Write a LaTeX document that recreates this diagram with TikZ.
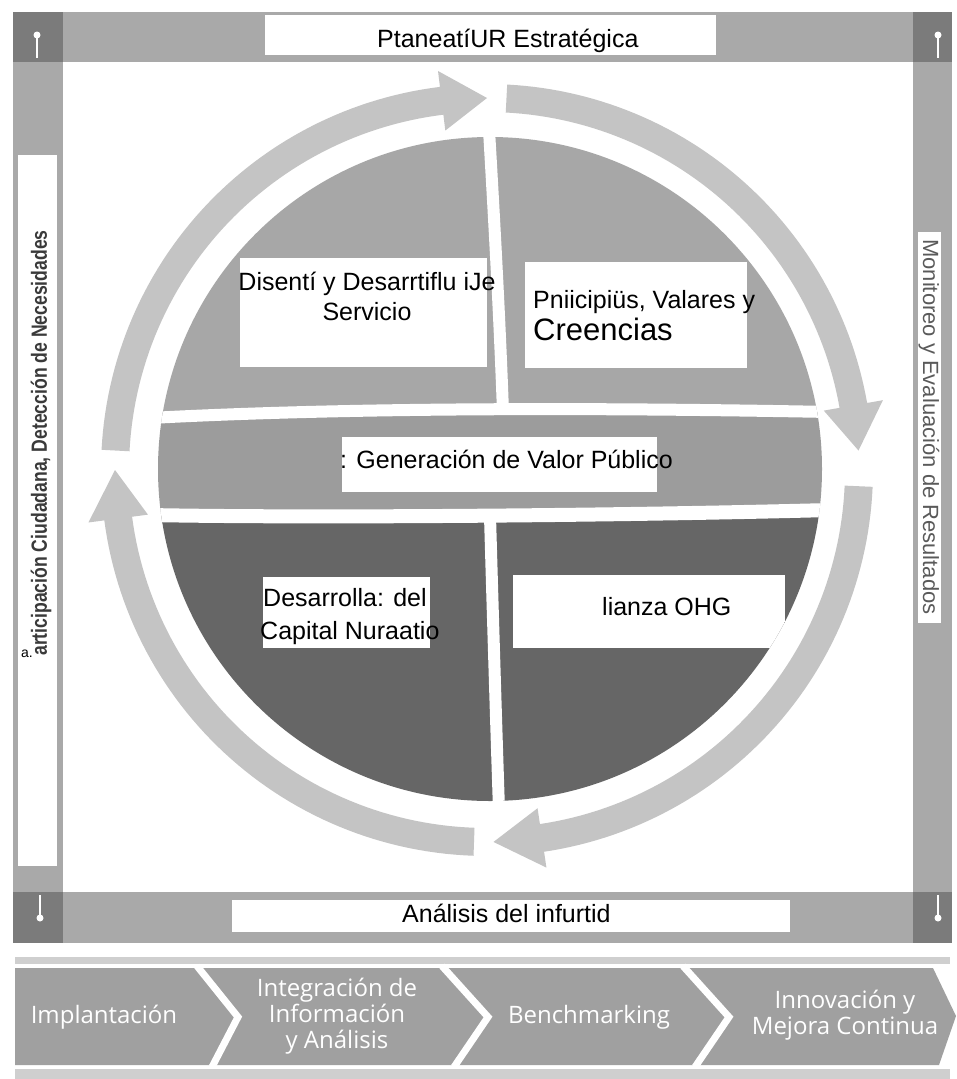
\documentclass[tikz,border=0pt]{standalone}
\usepackage{fontspec}
\setmainfont{Liberation Sans}
\newfontfamily\chevfont{Open Sans}
\usepackage{graphicx}
\definecolor{ringc}{HTML}{C4C4C4}
\definecolor{topc}{HTML}{A7A7A7}
\definecolor{midc}{HTML}{9C9C9C}
\definecolor{botc}{HTML}{666666}
\definecolor{framec}{HTML}{A9A9A9}
\definecolor{cornc}{HTML}{7B7B7B}
\definecolor{chevc}{HTML}{A0A0A0}
\definecolor{stripc}{HTML}{CFCFCF}
\definecolor{sidetxt}{HTML}{3A3A3A}
\definecolor{sidetxtr}{HTML}{5A5A5A}
\newcommand\RingArrow[3]{%
  \fill[ringc] plot[domain=#1:#2,samples=60] ({487+386*cos(\x)},{470+386*sin(\x)})
    -- ({487+402*cos(#2)},{470+402*sin(#2)})
    -- ({487+372*cos(#3)},{470+372*sin(#3)})
    -- ({487+342*cos(#2)},{470+342*sin(#2)})
    -- plot[domain=#2:#1,samples=60] ({487+358*cos(\x)},{470+358*sin(\x)}) -- cycle;}
\tikzset{
  lbl/.style={inner sep=0pt, font=\fontsize{25}{30}\selectfont, text=black},
  chevtxt/.style={inner sep=0pt, font=\chevfont\fontsize{24}{26}\selectfont, text=white, align=center},
  sep/.style={white, line width=12pt, line cap=butt},
  chevsep/.style={white, line width=7pt, line join=miter},
  cornerdot/.style={white, line width=1.2pt}
}
\begin{document}
\begin{tikzpicture}[x=1pt,y=-1pt]
\useasboundingbox (0,0) rectangle (956,1079);
\fill[white] (0,0) rectangle (956,1079);
% frame bars
\fill[framec] (13,12) rectangle (952,62);
\fill[framec] (13,892) rectangle (952,943);
\fill[framec] (13,62) rectangle (63,892);
\fill[framec] (913,62) rectangle (952,892);
% corners
\fill[cornc] (13,12) rectangle (63,62);
\fill[cornc] (13,892) rectangle (63,943);
\fill[cornc] (913,12) rectangle (952,62);
\fill[cornc] (913,892) rectangle (952,943);
\draw[cornerdot] (37,35) -- (37,58); \fill[white] (37,35) circle[radius=3.5pt];
\draw[cornerdot] (938,35) -- (938,58); \fill[white] (938,35) circle[radius=3.5pt];
\draw[cornerdot] (40,895) -- (40,918); \fill[white] (40,918) circle[radius=3.5pt];
\draw[cornerdot] (938,895) -- (938,918); \fill[white] (938,918) circle[radius=3.5pt];
% white boxes in frame
\fill[white] (265,15) rectangle (716,55);
\fill[white] (232,900) rectangle (790,932);
\fill[white] (18,155) rectangle (57,866);
\fill[white] (918,232) rectangle (941,623);
% ring arrows
\RingArrow{183}{263}{270}
\RingArrow{273}{350}{357}
\RingArrow{2.5}{81.5}{89}
\RingArrow{92}{172.5}{180}
% pie
\begin{scope}
  \clip (490,469) circle[radius=332pt];
  \fill[topc] (150,120) rectangle (830,416);
  \fill[midc] (150,412) rectangle (830,516);
  \fill[botc] (150,514) rectangle (830,810);
  \draw[sep] (489,130) .. controls (496,250) and (500,330) .. (503,412);
  \draw[sep, line width=12pt] (150,418) .. controls (300,410) and (520,406) .. (830,412);
  \draw[sep, line width=14pt] (150,515) .. controls (300,518) and (600,516) .. (830,510);
  \draw[sep] (490,516) .. controls (493,620) and (496,720) .. (499,810);
  % boxes
  \fill[white] (240,258) rectangle (487,367);
  \fill[white] (525,262) rectangle (747,368);
  \fill[white] (342,437) rectangle (657,492);
  \fill[white] (263,577) rectangle (430,648);
  \fill[white] (513,575) rectangle (785,648);
\end{scope}
% texts
\node[lbl, anchor=base west] (title) at (377,47) {PtaneatíUR Estratégica};
\node[lbl, anchor=base] (dis1) at (367,290) {Disentí y Desarrtiflu iJe};
\node[lbl, anchor=base] (dis2) at (367,320) {Servicio};
\node[lbl, anchor=base west] (pri1) at (533,308) {Pniicipiüs, Valares y};
\node[lbl, anchor=base west, font=\fontsize{31}{36}\selectfont] (pri2) at (533,340) {Creencias};
\node[lbl, anchor=base west] (gen) at (340,468) {: Generación de Valor Público};
\node[lbl, anchor=base west] (des1) at (263,606) {Desarrolla: del};
\node[lbl, anchor=base west] (des2) at (260,639) {Capital Nuraatio};
\node[lbl, anchor=base west] (lia) at (602,615) {lianza OHG};
\node[lbl, anchor=base west] (ana) at (402,922) {Análisis del infurtid};
\node[inner sep=0pt, anchor=base west, font=\fontsize{14}{16}\selectfont] (adot) at (21,657) {a.};
\node[inner sep=0pt, rotate=90, text=sidetxt, font=\bfseries\fontsize{22}{24}\selectfont] (left) at (41,443) {\scalebox{0.8}[1]{articipación Ciudadana, Detección de Necesidades}};
\node[inner sep=0pt, rotate=-90, text=sidetxtr, font=\fontsize{22}{24}\selectfont] (right) at (929,427) {Monitoreo y Evaluación de Resultados};
% chevron band
\fill[stripc] (15,957) rectangle (950,964);
\fill[chevc] (15,968) -- (933,968) -- (956,1016) -- (939,1065) -- (15,1065) -- cycle;
\draw[chevsep] (197,966) -- (238,1017) -- (212,1067);
\draw[chevsep] (442,966) -- (488,1017) -- (454,1067);
\draw[chevsep] (683,966) -- (729,1017) -- (695,1067);
\fill[stripc] (15,1069) rectangle (950,1079);
\node[chevtxt] (imp) at (104,1017) {Implantación};
\node[chevtxt] (int) at (337,1016) {Integración de\\Información\\y Análisis};
\node[chevtxt] (ben) at (589,1017) {Benchmarking};
\node[chevtxt] (inn) at (845,1015) {Innovación y\\Mejora Continua};
\end{tikzpicture}
\end{document}
